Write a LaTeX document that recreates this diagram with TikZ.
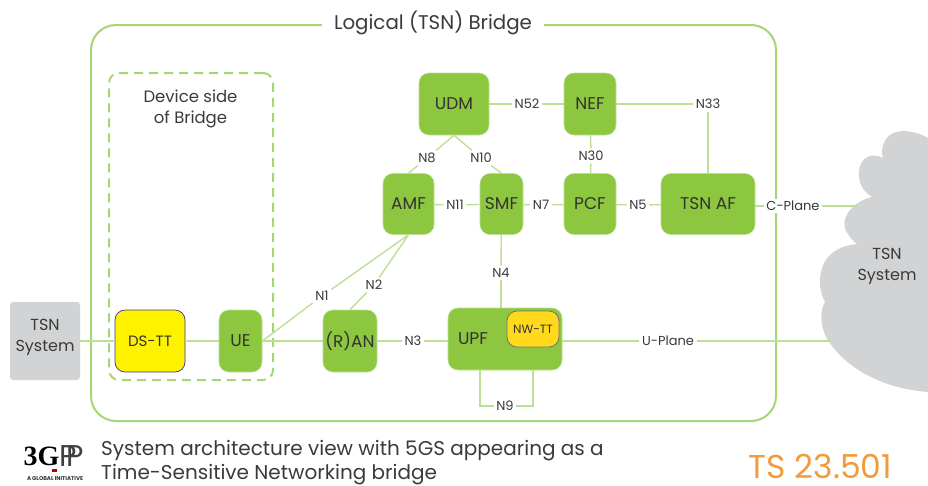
\documentclass[tikz,border=0pt]{standalone}
\usepackage{fontspec}
\setmainfont{Poppins}
\newfontfamily\logofont{Liberation Serif}
\usepackage{tikz}

\definecolor{nfgreen}{HTML}{8DC63F}
\definecolor{linkgreen}{HTML}{BCE095}
\definecolor{framegreen}{HTML}{A6D576}
\definecolor{sysgrey}{HTML}{D1D3D4}
\definecolor{dsyellow}{HTML}{FFF200}
\definecolor{nwyellow}{HTML}{FFD91A}
\definecolor{tsorange}{HTML}{F39A3B}
\definecolor{txtgrey}{HTML}{3A3A3A}

\tikzset{
  nf/.style={fill=nfgreen,draw=linkgreen,line width=0.6pt,rounded corners=10pt,inner sep=0pt,
    font=\fontsize{17}{18}\selectfont,text=black!80},
  lab/.style={fill=white,inner sep=2.5pt,font=\fontsize{13}{15}\selectfont,text=txtgrey},
  sys/.style={align=center,font=\fontsize{16}{21}\selectfont,text=txtgrey},
  foot/.style={anchor=west,inner sep=0pt,font=\fontsize{20}{22}\selectfont,text=txtgrey},
  link/.style={draw=linkgreen,line width=1.4pt}
}

\begin{document}
\begin{tikzpicture}[x=1pt,y=-1pt]
      \useasboundingbox (0,0) rectangle (928,485);

      % frames
      \node (bridge) at (433.5,223) [draw=framegreen,line width=2pt,rounded corners=25pt,
        minimum width=685pt,minimum height=396pt] {};
      \node (device) at (191,226.5) [draw=framegreen,line width=2pt,dash pattern=on 9pt off 6pt,rounded corners=10pt,
        minimum width=164pt,minimum height=307pt] {};
      \node (title) at (433,23) [fill=white,inner xsep=12pt,inner ysep=2pt,font=\fontsize{19.8}{22}\selectfont,text=txtgrey] {Logical (TSN) Bridge};
      \node (devtxt) at (190.5,109) [align=center,font=\fontsize{16.5}{21}\selectfont,text=txtgrey] {Device side\\of Bridge};

      % cloud
      \fill [sysgrey] (928,138) .. controls (915,130) and (890,126) .. (884,143)
        .. controls (881,150) and (882,155) .. (883,158)
        .. controls (868,150) and (857,162) .. (859,177)
        .. controls (860,187) and (866,193) .. (872,197)
        .. controls (850,202) and (838,222) .. (848,234)
        .. controls (850,238) and (853,241) .. (857,244)
        .. controls (835,246) and (820,258) .. (820,282)
        .. controls (820,290) and (822,297) .. (825,302)
        .. controls (820,310) and (820,325) .. (826,337)
        .. controls (840,362) and (875,388) .. (928,392) -- cycle;
      \coordinate (cloudc) at (858,206);
      \coordinate (cloudu) at (831,341);

      % grey systems
      \node (tsnleft) at (45,341) [fill=sysgrey,rounded corners=3pt,minimum width=70pt,minimum height=78pt] {};
      \node (tsnlefttxt) at (45,337.5) [sys] {TSN\\System};
      \node (tsnright) at (887,266) [sys] {TSN\\System};

      % network functions
      \begin{scope}[every node/.style={nf}]
        \node (udm) at (454,104) [minimum width=70pt,minimum height=62pt] {UDM};
        \node (nef) at (590,104) [minimum width=52pt,minimum height=62pt] {NEF};
        \node (amf) at (408.5,204) [minimum width=51pt,minimum height=61pt] {AMF};
        \node (smf) at (501.5,204) [minimum width=43pt,minimum height=61pt] {SMF};
        \node (pcf) at (590,204) [minimum width=52pt,minimum height=61pt] {PCF};
        \node (tsnaf) at (708,204) [minimum width=94pt,minimum height=61pt] {TSN AF};
        \node (ue) at (240.5,341) [minimum width=43pt,minimum height=62pt] {UE};
        \node (ran) at (350,341) [minimum width=54pt,minimum height=62pt] {(R)AN};
        \node (upf) at (505,339) [minimum width=114pt,minimum height=62pt,text width=94pt,align=left] {\raisebox{-2pt}{UPF}};
      \end{scope}
      \node (dstt) at (150,341) [nf,fill=dsyellow,draw=blue!55!black!80,line width=0.7pt,minimum width=70pt,minimum height=62pt,font=\fontsize{15}{18}\selectfont] {DS-TT};
      \node (nwtt) at (533,329) [nf,fill=nwyellow,draw=black!55,line width=0.8pt,minimum width=52pt,minimum height=36pt,font=\fontsize{12}{14}\selectfont] {NW-TT};

      % interface labels
      \begin{scope}[every node/.style={lab}]
        \node (n1) at (322,296) {N1};
        \node (n2) at (374,285) {N2};
        \node (n3) at (413,341) {N3};
        \node (n4) at (501,273) {N4};
        \node (n5) at (638,205) {N5};
        \node (n7) at (541,205) {N7};
        \node (n8) at (427,158) {N8};
        \node (n9) at (505,406) {N9};
        \node (n10) at (481,158) {N10};
        \node (n11) at (455,205) {N11};
        \node (n30) at (591,156) {N30};
        \node (n33) at (708,104) {N33};
        \node (n52) at (527,104) {N52};
        \node (cplane) at (793,206) {C-Plane};
        \node (uplane) at (668,341) {U-Plane};
      \end{scope}

      \begin{scope}[every edge/.style={link}]
        \path (tsnleft) edge (dstt);
        \path (dstt) edge (ue);
        \path (ue) edge (ran);
        \path (ue.east) edge (n1);
        \path (n1) edge (amf.south);
        \path (ran.north) edge (n2);
        \path (n2) edge (amf.south);
        \path (ran) edge (n3);
        \path (n3) edge (n3 -| upf.west);
        \path (upf.east |- uplane) edge (uplane);
        \path (uplane) edge (cloudu);
        \path (smf) edge (n4);
        \path (n4) edge (n4 |- upf.north);
        \path (udm) edge (n52);
        \path (n52) edge (nef);
        \path (nef) edge (n30);
        \path (n30) edge (pcf);
        \path (nef) edge (n33);
        \path (n33) edge (tsnaf);
        \path (udm.south) edge (n8);
        \path (n8) edge (amf.north);
        \path (udm.south) edge (n10);
        \path (n10) edge (smf.north);
        \path (amf) edge (n11);
        \path (n11) edge (smf);
        \path (smf) edge (n7);
        \path (n7) edge (pcf);
        \path (pcf) edge (n5);
        \path (n5) edge (tsnaf);
        \path (tsnaf.east |- cplane) edge (cplane);
        \path (cplane) edge (cloudc);
      \end{scope}
      \coordinate (upfl) at (480,370);
      \coordinate (upfr) at (533,370);
      \draw [link] (upfl) |- (n9);
      \draw [link] (upfr) |- (n9);

      % footer
      \node (logop) at (71.5,456) [inner sep=0pt,font=\fontsize{30}{30}\selectfont,text=black!75] {P\kern-10pt P};
      \node (logo) at (41.5,456) [inner sep=0pt,font=\logofont\bfseries\fontsize{28}{28}\selectfont,text=black] {3G};
      \fill [red!70!black] (52,469) rectangle (57,472);
      \node (logotxt) at (55,478.5) [inner sep=0pt,font=\bfseries\fontsize{5.5}{5.5}\selectfont,text=black!80] {A GLOBAL INITIATIVE};
      \node (cap1) at (101,451) [foot] {System architecture view with 5GS appearing as a};
      \node (cap2) at (101,474.5) [foot] {Time-Sensitive Networking\ bridge};
      \node (spec) at (820.5,466) [inner sep=0pt,font=\fontsize{33}{34}\selectfont,text=tsorange] {TS 23.501};
\end{tikzpicture}
\end{document}
